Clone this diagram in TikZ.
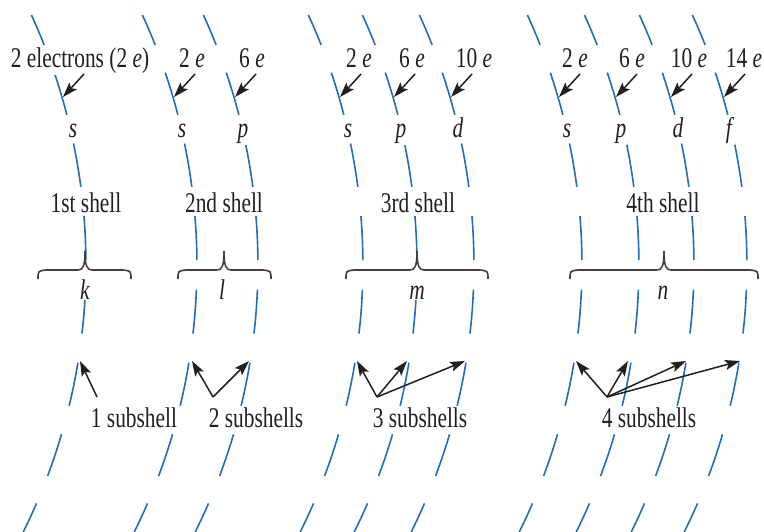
\documentclass[tikz,border=0pt]{standalone}
\usepackage{fontspec}
\setmainfont[FakeStretch=0.75]{Liberation Serif}
\usetikzlibrary{arrows.meta}
\definecolor{shellblue}{RGB}{30,110,190}
\definecolor{ink}{RGB}{35,31,32}
\begin{document}
\begin{tikzpicture}[x=1pt,y=-1pt,
  shellarc/.style={draw=shellblue, line width=1.6pt, dash pattern=on 44pt off 29.5pt, dash phase=11.5pt},
  lbl/.style={font=\fontsize{28.5}{30}\selectfont, text=ink, inner sep=1pt, fill=white, anchor=base},
  ptr/.style={draw=ink, line width=1.5pt, -{Stealth[length=15pt,width=10pt,inset=3pt]}},
  bracestyle/.style={draw=ink!85, line width=1.6pt}]
\useasboundingbox (0,0) rectangle (764,532);
% dashed shell arcs
\foreach \nm/\xm in {a1/86,b1/197,b2/258,c1/363,c2/417,c3/474,d1/582,d2/639,d3/694,d4/747}{
  \draw[shellarc] (\xm-54.6,15) coordinate (top\nm) arc[start angle=-24.62, end angle=26.42, radius=600];
  \coordinate (et\nm) at (\xm-2,74);
  \coordinate (eh\nm) at (\xm-23,97);
}
% electron labels
\node[lbl] (ea1) at (80,68) {2 electrons (2 \textit{e})};
\node[lbl] (eb1) at (192,68) {2 \textit{e}};
\node[lbl] (eb2) at (252,68) {6 \textit{e}};
\node[lbl] (ec1) at (359,68) {2 \textit{e}};
\node[lbl] (ec2) at (412,68) {6 \textit{e}};
\node[lbl] (ec3) at (474,68) {10 \textit{e}};
\node[lbl] (ed1) at (575,68) {2 \textit{e}};
\node[lbl] (ed2) at (632,68) {6 \textit{e}};
\node[lbl] (ed3) at (689,68) {10 \textit{e}};
\node[lbl] (ed4) at (744,68) {14 \textit{e}};
\foreach \nm in {a1,b1,b2,c1,c2,c3,d1,d2,d3,d4}{
  \draw[ptr] (et\nm) -- (eh\nm);
}
% subshell letters
\node[lbl] (la1) at (73,138) {\textit{s}};
\node[lbl] (lb1) at (182,138) {\textit{s}};
\node[lbl] (lb2) at (243,138) {\textit{p}};
\node[lbl] (lc1) at (348,138) {\textit{s}};
\node[lbl] (lc2) at (401,138) {\textit{p}};
\node[lbl] (lc3) at (458,138) {\textit{d}};
\node[lbl] (ld1) at (567,138) {\textit{s}};
\node[lbl] (ld2) at (621,138) {\textit{p}};
\node[lbl] (ld3) at (678,138) {\textit{d}};
\node[lbl] (ld4) at (730,138) {\textit{f}};
% shell labels
\node[lbl] (sh1) at (86,213) {1st shell};
\node[lbl] (sh2) at (224,213) {2nd shell};
\node[lbl] (sh3) at (418,213) {3rd shell};
\node[lbl] (sh4) at (663,213) {4th shell};
% braces
\foreach \bl/\bt/\br in {38/85/131, 178/224/271, 346/417/488, 570/664/758}{
  \draw[bracestyle] (\bl,279) .. controls (\bl,271) .. (\bl+8,270) -- (\bt-7,270)
    .. controls (\bt-2,270) and (\bt,266) .. (\bt,251)
    .. controls (\bt,266) and (\bt+2,270) .. (\bt+7,270) -- (\br-8,270)
    .. controls (\br,271) .. (\br,279);
}
\node[lbl] (qk) at (85,299) {\textit{k}};
\node[lbl] (ql) at (222,299) {\textit{l}};
\node[lbl] (qm) at (417,299) {\textit{m}};
\node[lbl] (qn) at (663,299) {\textit{n}};
% subshell counts
\node[lbl] (ss1) at (134,427) {1 subshell};
\node[lbl] (ss2) at (256,427) {2 subshells};
\node[lbl] (ss3) at (420,427) {3 subshells};
\node[lbl] (ss4) at (649,427) {4 subshells};
\coordinate (s1) at (97,397);
\coordinate (s2) at (213,397);
\coordinate (s3) at (377,397);
\coordinate (s4) at (607,397);
\coordinate (h1a) at (80,361);
\coordinate (h2a) at (192,361);
\coordinate (h2b) at (249,361);
\coordinate (h3a) at (357,361);
\coordinate (h3b) at (407,361);
\coordinate (h3c) at (465,361);
\coordinate (h4a) at (576,361);
\coordinate (h4b) at (628,361);
\coordinate (h4c) at (686,361);
\coordinate (h4d) at (740,361);
\draw[ptr] (s1) -- (h1a);
\draw[ptr] (s2) -- (h2a);
\draw[ptr] (s2) -- (h2b);
\draw[ptr] (s3) -- (h3a);
\draw[ptr] (s3) -- (h3b);
\draw[ptr] (s3) -- (h3c);
\draw[ptr] (s4) -- (h4a);
\draw[ptr] (s4) -- (h4b);
\draw[ptr] (s4) -- (h4c);
\draw[ptr] (s4) -- (h4d);
\end{tikzpicture}
\end{document}
